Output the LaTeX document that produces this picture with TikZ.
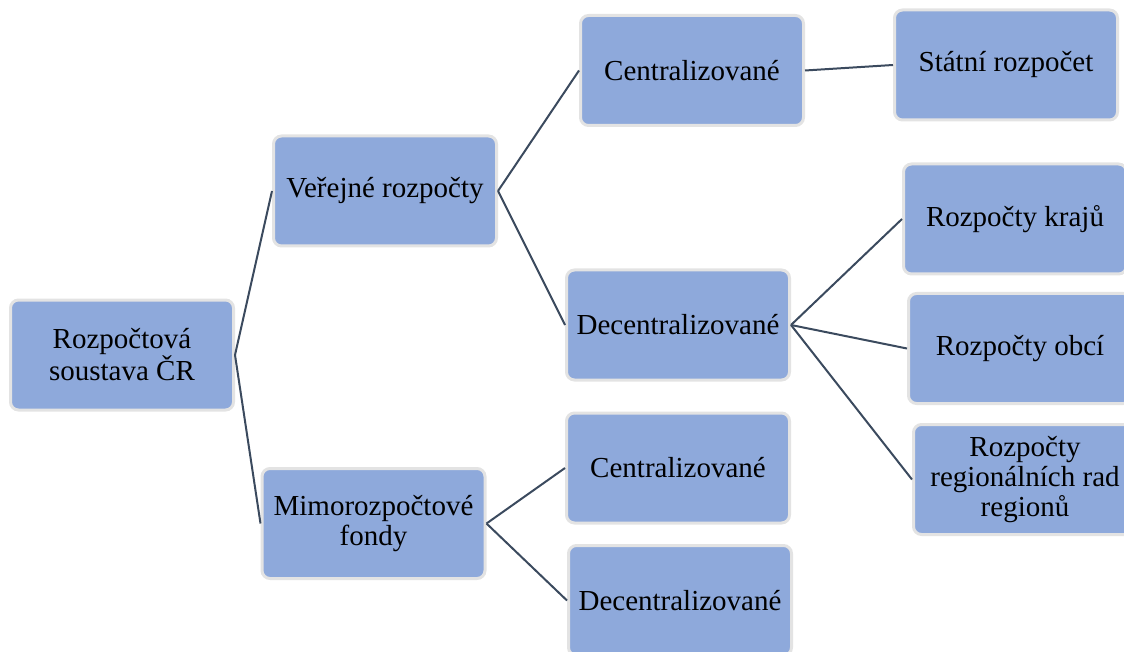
\documentclass[tikz,border=0pt]{standalone}
\usepackage{fontspec}
\setmainfont{Liberation Serif}
\usepackage{tikz}
\usetikzlibrary{arrows.meta,positioning}
\definecolor{boxfill}{HTML}{8EA9DB}
\definecolor{boxedge}{HTML}{E3E3E3}
\definecolor{linkcol}{HTML}{3B4A5E}

\begin{document}
\begin{tikzpicture}[x=1pt, y=-1pt,
  box/.style={draw=boxedge, fill=boxfill, line width=3pt, rounded corners=8pt,
              minimum width=223pt, minimum height=110pt, inner sep=2pt, align=center,
              font=\fontsize{29}{30}\selectfont},
  link/.style={draw=linkcol, line width=2pt}]
  \useasboundingbox (0,0) rectangle (1124,652);
  % levels from left to right
  \node[box] (root) at (122,355) {Rozpočtová\\soustava ČR};
  \node[box] (ver) at (385,191) {Veřejné rozpočty};
  \node[box] (mim) at (373.5,523.5) {Mimorozpočtové\\fondy};
  \node[box] (cen1) at (692,70.5) {Centralizované};
  \node[box] (dec1) at (678,325) {Decentralizované};
  \node[box] (cen2) at (678,468) {Centralizované};
  \node[box] (dec2) at (680,600.5) {Decentralizované};
  \node[box] (sta) at (1006,65) {Státní rozpočet};
  \node[box] (kra) at (1015,219) {Rozpočty krajů};
  \node[box] (obc) at (1020,348.5) {Rozpočty obcí};
  \node[box] (reg) at (1025,479.5) {Rozpočty\\regionálních rad\\regionů};
  % connectors
  \draw[link] (root.east) -- (ver.west);
  \draw[link] (root.east) -- (mim.west);
  \draw[link] (ver.east) -- (cen1.west);
  \draw[link] (ver.east) -- (dec1.west);
  \draw[link] (mim.east) -- (cen2.west);
  \draw[link] (mim.east) -- (dec2.west);
  \draw[link] (cen1.east) -- (sta.west);
  \draw[link] (dec1.east) -- (kra.west);
  \draw[link] (dec1.east) -- (obc.west);
  \draw[link] (dec1.east) -- (reg.west);
\end{tikzpicture}
\end{document}
